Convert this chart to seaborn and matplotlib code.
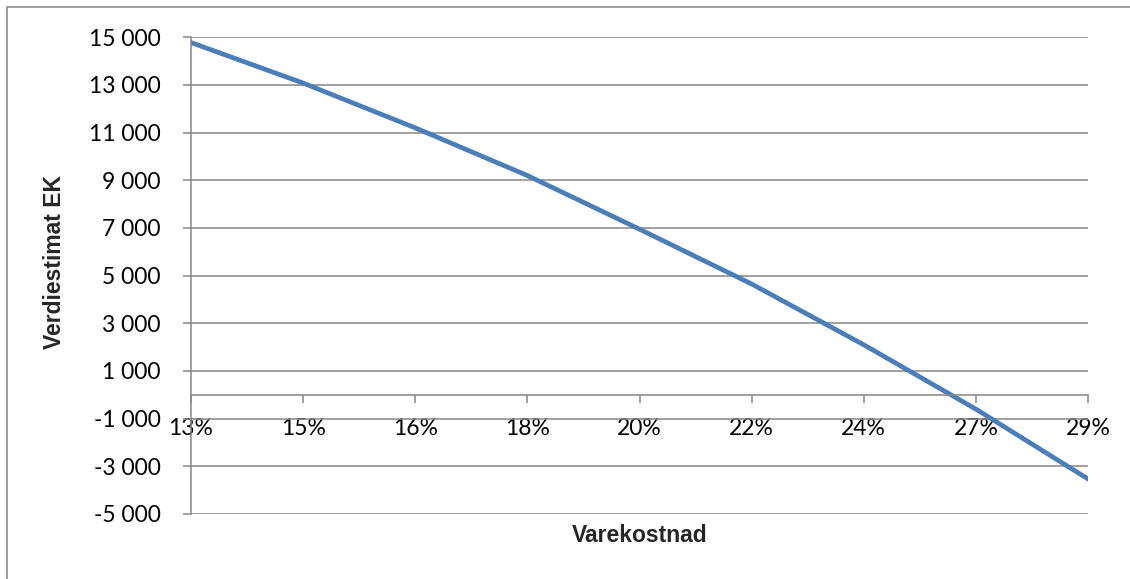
import matplotlib
matplotlib.use("Agg")
import matplotlib.pyplot as plt
from matplotlib.patches import Rectangle
from matplotlib.ticker import FuncFormatter, FixedLocator
import seaborn as sns
import pandas as pd

# Sensitivity of the equity value estimate to the cost-of-goods share
varekostnad = ["13%", "15%", "16%", "18%", "20%", "22%", "24%", "27%", "29%"]
verdiestimat_ek = [14780, 13080, 11200, 9200, 6950, 4650, 2100, -600, -3530]
y_ticks = list(range(-5000, 15001, 2000))

df = pd.DataFrame({"Varekostnad": varekostnad, "Verdiestimat EK": verdiestimat_ek})

sns.set_theme(style="white")
plt.rcParams["font.family"] = ["Lato", "DejaVu Sans"]

W, H = 1130, 579
fig = plt.figure(figsize=(W / 100, H / 100), dpi=100)
ax = fig.add_axes([191 / W, 1 - 514 / H, (1088 - 191) / W, (514 - 37.3) / H])

sns.lineplot(data=df, x="Varekostnad", y="Verdiestimat EK", ax=ax,
             color="#4A7EBB", linewidth=3.4, sort=False,
             solid_capstyle="round")

ax.set_xlim(0, len(varekostnad) - 1)
ax.set_ylim(y_ticks[0], y_ticks[-1])
ax.yaxis.set_major_locator(FixedLocator(y_ticks))
ax.yaxis.set_major_formatter(FuncFormatter(lambda v, p: f"{int(v):,}".replace(",", " ")))
ax.grid(axis="y", color="#868686", linewidth=1.1)
ax.grid(axis="x", visible=False)
ax.set_axisbelow(True)

grey = "#868686"
for side in ["top", "right"]:
    ax.spines[side].set_visible(False)
ax.spines["left"].set_color(grey)
ax.spines["left"].set_linewidth(1.1)
ax.spines["bottom"].set_position(("data", 0))
ax.spines["bottom"].set_color(grey)
ax.spines["bottom"].set_linewidth(1.1)

ax.tick_params(axis="y", direction="out", length=6, width=1.1, color=grey,
               labelsize=16.5, pad=16, labelcolor="black", left=True)
ax.tick_params(axis="x", direction="out", length=6, width=1.1, color=grey,
               labelsize=16.5, pad=11, labelcolor="black", bottom=True)

title_font = dict(family="Liberation Sans", size=16.5, weight="bold")
ax.set_xlabel("Varekostnad", **title_font)
ax.set_ylabel("Verdiestimat EK", **title_font)
plot_h = (514 - 37.3)
plot_w = (1088 - 191)
ax.xaxis.set_label_coords(0.5, (514 - 535) / plot_h)
ax.xaxis.label.set_verticalalignment("center")
ax.yaxis.set_label_coords((55 - 191) / plot_w, (514 - 262) / plot_h)
ax.yaxis.label.set_verticalalignment("center")

# Chart area border
fig.patches.append(Rectangle((7 / W, -0.05), 1.2, 1 - 7 / H + 0.05, transform=fig.transFigure,
                             fill=False, edgecolor="#8C8C8C", linewidth=1.2))

fig.savefig("out.png", dpi=100)
